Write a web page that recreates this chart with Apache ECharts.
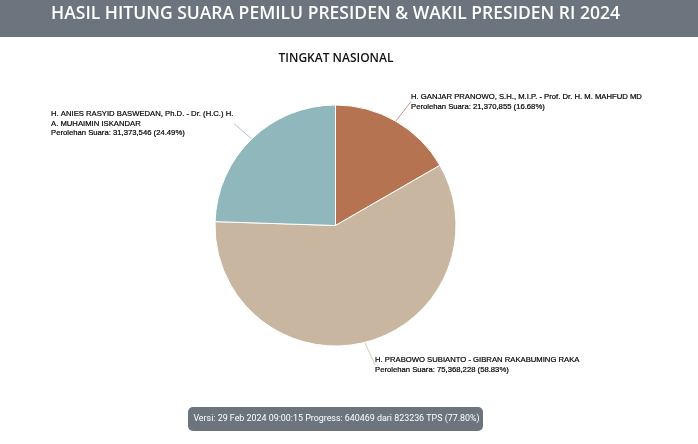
<!DOCTYPE html>
<html><head><meta charset="utf-8">
<style>html,body{margin:0;padding:0;background:#fff}#c{width:698px;height:444px}</style>
<script src="https://cdn.jsdelivr.net/npm/echarts@6/dist/echarts.min.js"></script>
</head><body><div id="c"></div>
<script>
const names = ['H. GANJAR PRANOWO, S.H., M.I.P. - Prof. Dr. H. M. MAHFUD MD','H. PRABOWO SUBIANTO - GIBRAN RAKABUMING RAKA','H. ANIES RASYID BASWEDAN, Ph.D. - Dr. (H.C.) H.\nA. MUHAIMIN ISKANDAR'];
const votes = [21370855, 75368228, 31373546];
const pct = ['16.68','58.83','24.49'];
const colors = ['#b57351','#c8b6a1','#8fb7bc'];
const labelPos = [{x:411,y:92},{x:375,y:355},{x:51,y:109}];
const richKey = ['a','a','b'];
const txt = {color:'#000',fontFamily:'"Liberation Sans"',fontSize:7.7,lineHeight:9.7,align:'left',textBorderColor:'#000',textBorderWidth:0.2};
const chart = echarts.init(document.getElementById('c'));
chart.setOption({
  animation:false,
  graphic:[
    {type:'rect',z:0,shape:{x:0,y:0,width:698,height:37},style:{fill:'#6c757d'}},
    {type:'rect',z:0,shape:{x:188,y:407,width:295,height:24,r:5},style:{fill:'#6c757d'}},
    {type:'text',z:5,x:335.5,y:14,style:{text:'HASIL HITUNG SUARA PEMILU PRESIDEN & WAKIL PRESIDEN RI 2024',fill:'#fff',font:'600 17.5px "Open Sans"',align:'center',verticalAlign:'middle'}},
    {type:'text',z:5,x:336,y:59,style:{text:'TINGKAT NASIONAL',fill:'#111',font:'600 12px "Open Sans"',align:'center',verticalAlign:'middle'}},
    {type:'text',z:5,x:336.5,y:419,style:{text:'Versi: 29 Feb 2024 09:00:15 Progress: 640469 dari 823236 TPS (77.80%)',fill:'#fff',font:'400 8.9px "Roboto"',align:'center',verticalAlign:'middle'}}
  ],
  series:[{
    type:'pie',
    center:[335.5,225.5],
    radius:[0,120.5],
    startAngle:90,
    itemStyle:{borderColor:'#fff',borderWidth:1},
    label:{show:true,color:'#000',fontFamily:'"Liberation Sans"',fontSize:7.7,lineHeight:9.7,
      rich:{a:Object.assign({width:230},txt),b:Object.assign({width:183},txt)}},
    labelLine:{show:true,length:18,length2:0,lineStyle:{width:1,opacity:.75}},
    labelLayout:function(p){
      const q=labelPos[p.dataIndex];
      return {x:q.x,y:q.y,align:'left',verticalAlign:'top',hideOverlap:false,moveOverlap:false};
    },
    data:names.map((n,i)=>({
      name:n,value:votes[i],
      itemStyle:{color:colors[i]},
      label:{formatter:(n+'\nPerolehan Suara: '+votes[i].toLocaleString('en-US')+' ('+pct[i]+'%)').split('\n').map(s=>'{'+richKey[i]+'|'+s+'}').join('\n')}
    }))
  }]
});
</script></body></html>
